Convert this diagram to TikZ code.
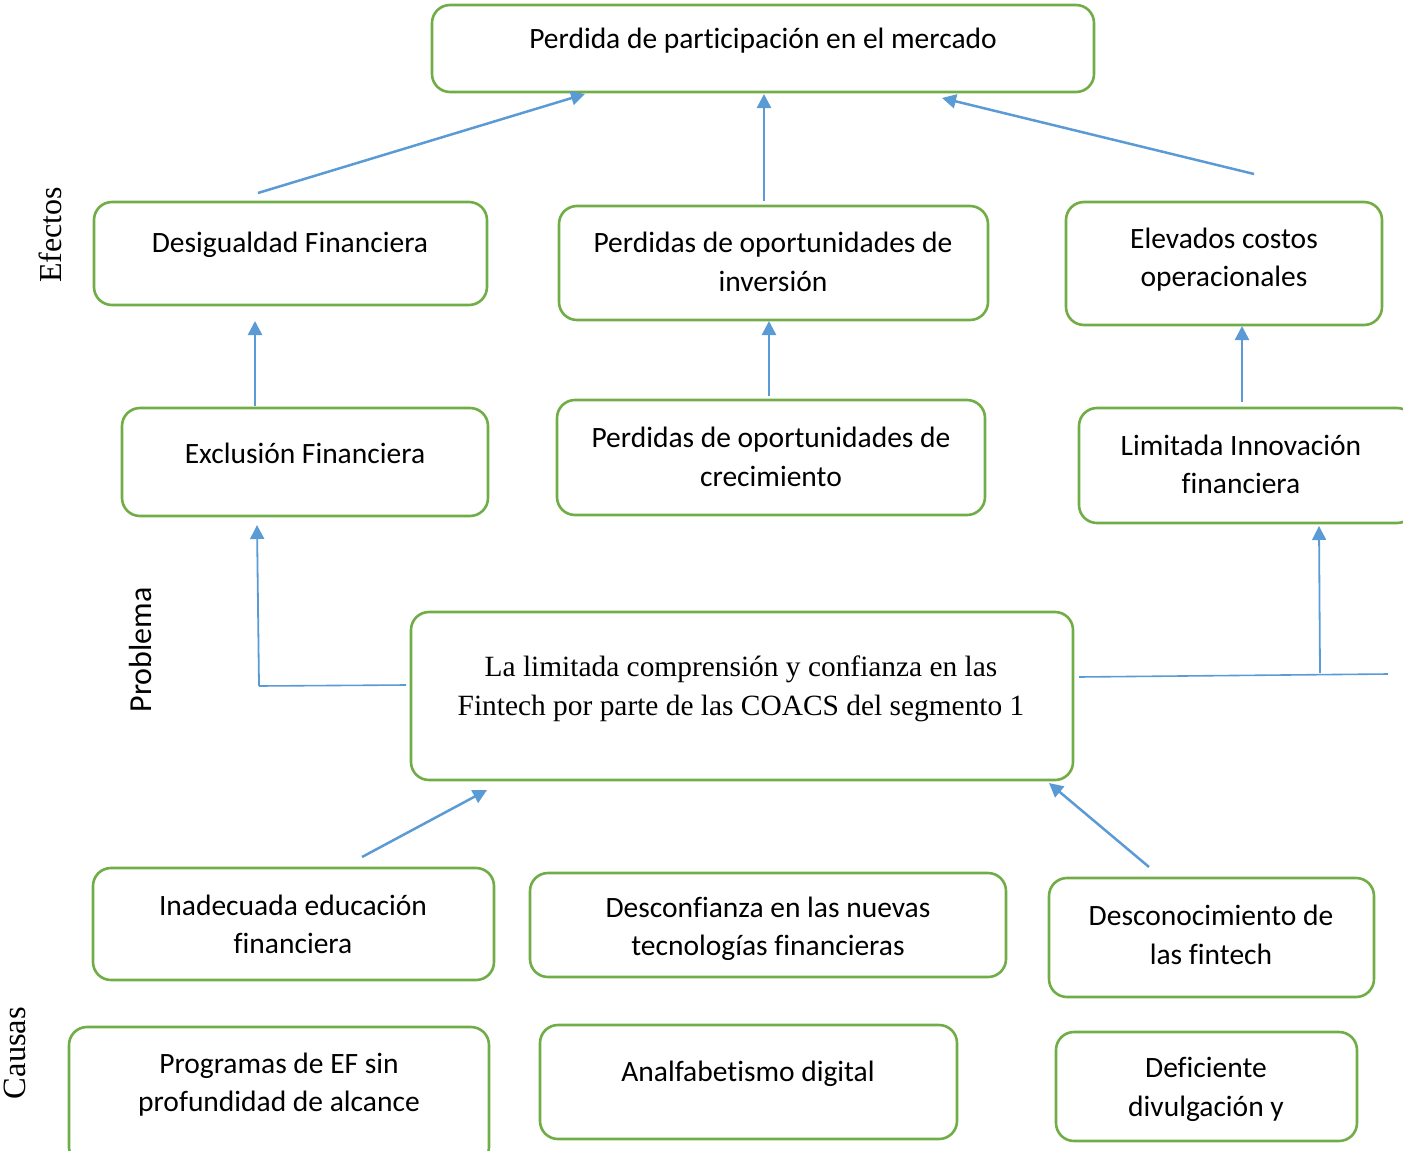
\documentclass[tikz,border=0pt]{standalone}
\usepackage{fontspec}
\setmainfont{Liberation Serif}
\newfontfamily\calibri[Ligatures=NoCommon]{Carlito}
\usetikzlibrary{arrows.meta,positioning}
\definecolor{verde}{HTML}{70AD47}
\definecolor{azul}{HTML}{5B9BD5}

\begin{document}
\begin{tikzpicture}[x=1pt,y=-1pt,
    caja/.style={draw=verde,line width=2.6pt,rounded corners=18pt,inner sep=0pt},
    texto/.style={align=center,inner sep=0pt,yshift=-2pt,font=\calibri\fontsize{29.5}{38.5}\selectfont},
    flecha/.style={draw=azul,line width=2.5pt,-{Triangle[length=14pt,width=14pt]}},
    linea/.style={draw=azul,line width=1.6pt}]
  \useasboundingbox (0,0) rectangle (1403,1151);

  % efectos
  \node[caja,minimum width=662pt,minimum height=87pt] (mercado) at (763,48.5) {};
  \node[texto] (mercadoT) at (763,39) {Perdida de participación en el mercado};
  \node[caja,minimum width=393pt,minimum height=103pt] (desig) at (290.5,253.5) {};
  \node[texto] (desigT) at (290,243) {Desigualdad Financiera};
  \node[caja,minimum width=429pt,minimum height=114pt] (inversion) at (773.5,263) {};
  \node[texto] (inversionT) at (773,260) {Perdidas de oportunidades de\\inversión};
  \node[caja,minimum width=316pt,minimum height=123pt] (costos) at (1224,263.5) {};
  \node[texto] (costosT) at (1224,257.5) {Elevados costos\\operacionales};
  \node[caja,minimum width=366pt,minimum height=108pt] (exclusion) at (305,462) {};
  \node[texto] (exclusionT) at (305,451) {Exclusión Financiera};
  \node[caja,minimum width=428pt,minimum height=115pt] (crecimiento) at (771,457.5) {};
  \node[texto] (crecimientoT) at (771,455) {Perdidas de oportunidades de\\crecimiento};
  \node[caja,minimum width=336pt,minimum height=115pt] (innovacion) at (1247,465.5) {};
  \node[texto] (innovacionT) at (1241,462.5) {Limitada Innovación\\financiera};

  % problema
  \node[caja,minimum width=662pt,minimum height=168pt] (problema) at (742,696) {};
  \node[align=center,inner sep=0pt,font=\fontsize{29.4}{38.5}\selectfont] (problemaT) at (741,689)
    {La limitada comprensión y confianza en las\\Fintech por parte de las COACS del segmento 1};

  % causas
  \node[caja,minimum width=401pt,minimum height=112pt] (educacion) at (293.5,924) {};
  \node[texto] (educacionT) at (293,922.5) {Inadecuada educación\\financiera};
  \node[caja,minimum width=476pt,minimum height=104pt] (desconfianza) at (768,925) {};
  \node[texto] (desconfianzaT) at (768,927) {Desconfianza en las nuevas\\tecnologías financieras};
  \node[caja,minimum width=325pt,minimum height=119pt] (desconocimiento) at (1211.5,937.5) {};
  \node[texto] (desconocimientoT) at (1211,933) {Desconocimiento de\\las fintech};
  \node[caja,minimum width=420pt,minimum height=138pt] (programas) at (279,1096) {};
  \node[texto] (programasT) at (279,1082.5) {Programas de EF sin\\profundidad de alcance};
  \node[caja,minimum width=417pt,minimum height=114pt] (analfabetismo) at (748.5,1082) {};
  \node[texto] (analfabetismoT) at (748,1072) {Analfabetismo digital};
  \node[caja,minimum width=301pt,minimum height=109pt] (deficiente) at (1206.5,1086.5) {};
  \node[texto] (deficienteT) at (1206,1087.5) {Deficiente\\divulgación y};

  % etiquetas laterales
  \node[rotate=90,inner sep=0pt,font=\fontsize{32}{34}\selectfont] (efectos) at (50,235) {Efectos};
  \node[rotate=90,inner sep=0pt,font=\calibri\fontsize{32}{34}\selectfont] (problemaL) at (141,650) {Problema};
  \node[rotate=90,inner sep=0pt,font=\fontsize{32.5}{34}\selectfont] (causas) at (15,1053) {Causas};

  % conectores
  \coordinate (d1) at (258,193);   \coordinate (m1) at (585,94);
  \coordinate (d2) at (764,201);   \coordinate (m2) at (764,94);
  \coordinate (d3) at (1254,174);  \coordinate (m3) at (942,98);
  \coordinate (e1) at (255,406);   \coordinate (f1) at (255,321);
  \coordinate (e2) at (769,396);   \coordinate (f2) at (769,321);
  \coordinate (e3) at (1242,402);  \coordinate (f3) at (1242,326);
  \coordinate (p1) at (406,685);   \coordinate (q1) at (259,686);  \coordinate (r1) at (257,525);
  \coordinate (p2) at (1079,677);  \coordinate (q2) at (1388,674);
  \coordinate (s2) at (1320,673);  \coordinate (r2) at (1319,526);
  \coordinate (c1) at (362,857);   \coordinate (b1) at (487,790);
  \coordinate (c3) at (1149,867);  \coordinate (b3) at (1049,783);

  \draw[flecha] (d1) -- (m1);
  \draw[flecha] (d2) -- (m2);
  \draw[flecha] (d3) -- (m3);
  \draw[flecha] (e1) -- (f1);
  \draw[flecha] (e2) -- (f2);
  \draw[flecha] (e3) -- (f3);
  \draw[linea] (p1) -- (q1);
  \draw[flecha,line width=1.8pt] (q1) -- (r1);
  \draw[linea] (p2) -- (q2);
  \draw[flecha,line width=1.8pt] (s2) -- (r2);
  \draw[flecha] (c1) -- (b1);
  \draw[flecha] (c3) -- (b3);
\end{tikzpicture}
\end{document}
